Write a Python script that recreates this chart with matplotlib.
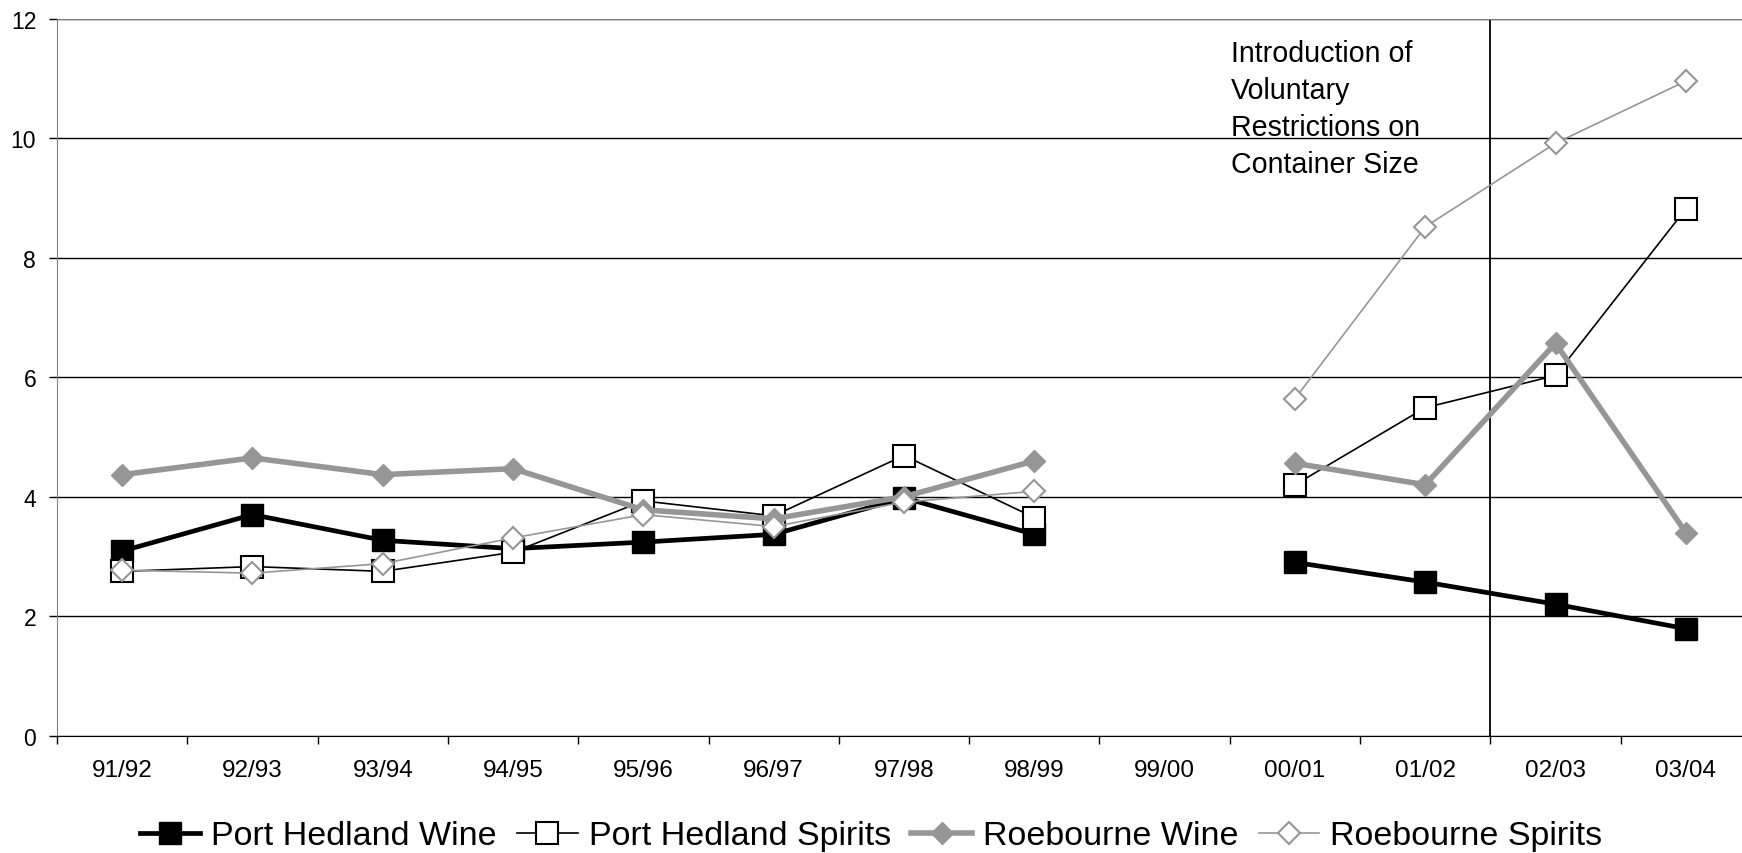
import numpy as np
import matplotlib
matplotlib.use("Agg")
import matplotlib.pyplot as plt
from matplotlib.ticker import FixedLocator, NullFormatter

plt.rcParams['font.family'] = ['Liberation Sans', 'DejaVu Sans']

# data (99/00 has no values)
years = ["91/92", "92/93", "93/94", "94/95", "95/96", "96/97", "97/98",
         "98/99", "99/00", "00/01", "01/02", "02/03", "03/04"]
ph_wine = [3.09, 3.70, 3.27, 3.13, 3.24, 3.37, 3.98, 3.37, np.nan, 2.90, 2.57, 2.20, 1.79]
ph_spirits = [2.75, 2.83, 2.75, 3.07, 3.93, 3.68, 4.69, 3.65, np.nan, 4.20, 5.49, 6.03, 8.82]
rb_wine = [4.37, 4.65, 4.37, 4.47, 3.78, 3.63, 4.00, 4.60, np.nan, 4.56, 4.20, 6.57, 3.40]
rb_spirits = [2.77, 2.72, 2.88, 3.31, 3.70, 3.50, 3.91, 4.09, np.nan, 5.64, 8.52, 9.92, 10.96]

grey = '#969696'
x = np.arange(len(years))

fig = plt.figure(figsize=(17.42, 8.54), dpi=100)
# plot area runs slightly past the right edge of the image
ax = fig.add_axes([57 / 1742, 0.1375, (1751 - 57) / 1742, 0.9766 - 0.1375])

ax.plot(x, ph_wine, color='black', lw=3.4, marker='s', ms=15.5,
        mfc='black', mec='black', label='Port Hedland Wine')
ax.plot(x, ph_spirits, color='black', lw=1.2, marker='s', ms=15.5,
        mfc='white', mec='black', mew=1.5, label='Port Hedland Spirits')
ax.plot(x, rb_wine, color=grey, lw=4, marker='D', ms=11.5,
        mfc=grey, mec=grey, label='Roebourne Wine')
ax.plot(x, rb_spirits, color=grey, lw=1.2, marker='D', ms=11.5,
        mfc='white', mec=grey, mew=1.5, label='Roebourne Spirits')

# policy change marker
ax.axvline(10.5, color='black', lw=1.3, zorder=1)
ax.text(8.51, 11.66, "Introduction of\nVoluntary\nRestrictions on\nContainer Size",
        fontsize=20.6, va='top', ha='left', linespacing=1.41)

ax.set_xlim(-0.5, len(years) - 0.5)
ax.set_ylim(0, 12)
ax.set_yticks(range(0, 13, 2))
ax.set_xticks(x)
ax.set_xticklabels(years)
ax.xaxis.set_minor_locator(FixedLocator(np.arange(-0.5, len(years), 1)))
ax.xaxis.set_minor_formatter(NullFormatter())
ax.tick_params(axis='x', which='major', length=0, pad=17, labelsize=17.5)
ax.tick_params(axis='x', which='minor', length=6, width=1, color='black')
ax.tick_params(axis='y', length=6, width=1, pad=9, labelsize=16.5, color='black')

ax.yaxis.grid(True, color='black', lw=1)
ax.set_axisbelow(True)
ax.spines['right'].set_visible(False)
ax.spines['top'].set_color('#808080')
ax.spines['left'].set_color('#808080')
ax.spines['bottom'].set_color('black')

fig.legend(loc='center', ncol=4, frameon=False, fontsize=24.5,
           bbox_to_anchor=(0.5, 0.02), handlelength=1.78, handletextpad=0.32,
           columnspacing=0.6, borderpad=0)

fig.savefig('out.png', dpi=100)
